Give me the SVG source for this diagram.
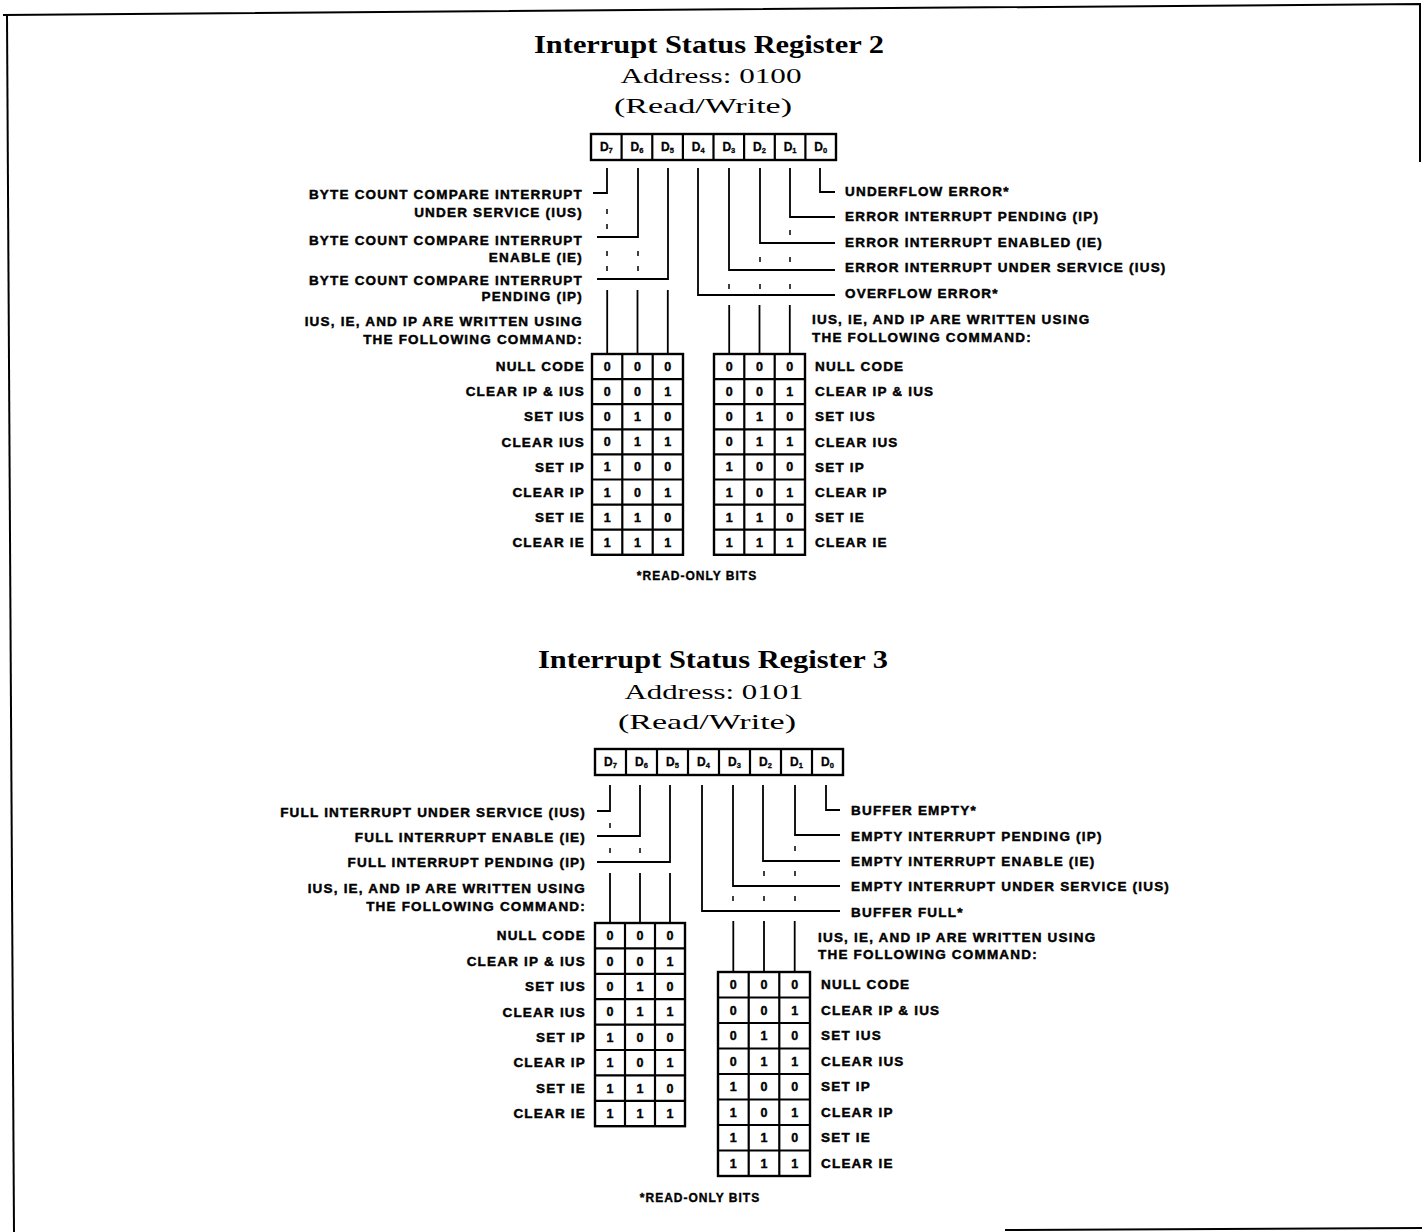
<svg xmlns="http://www.w3.org/2000/svg" width="1422" height="1232" viewBox="0 0 1422 1232">
<style>
  .lbl { font-family: "Liberation Sans", Arial, sans-serif; font-weight: bold; font-size: 13.5px; letter-spacing: 1.2px; fill: #000; stroke: #000; stroke-width: 0.45; }
  .r { text-anchor: end; }
  .cell { font-family: "Liberation Sans", Arial, sans-serif; font-weight: bold; font-size: 12.5px; text-anchor: middle; fill: #000; stroke: #000; stroke-width: 0.4; }
  .bit { font-family: "Liberation Sans", Arial, sans-serif; font-weight: bold; font-size: 12px; text-anchor: middle; fill: #000; stroke: #000; stroke-width: 0.3; }
  .sub { font-size: 7.5px; }
  .title { font-family: "Liberation Serif", "Times New Roman", serif; font-weight: bold; font-size: 25px; text-anchor: middle; fill: #000; }
  .addr { font-family: "Liberation Serif", "Times New Roman", serif; font-size: 22px; text-anchor: middle; fill: #000; }
  .note { font-family: "Liberation Sans", Arial, sans-serif; font-weight: bold; font-size: 12px; letter-spacing: 1px; text-anchor: middle; fill: #000; stroke: #000; stroke-width: 0.35; }
  .box { fill: #fff; stroke: #000; stroke-width: 2.4; }
  .grid { stroke: #000; stroke-width: 2.2; fill: none; }
  .wire { stroke: #000; stroke-width: 1.8; fill: none; }
  .tick { stroke: #000; stroke-width: 1.5; fill: none; }
  .frame { stroke: #000; stroke-width: 2; fill: none; }
</style>

<g id="frame">
  <path class="frame" d="M3,15 L1420,4 L1420,162"/>
  <path class="frame" d="M7,15 L14,1232"/>
  <path class="frame" d="M1005,1230 L1422,1228"/>
</g>

<!-- ================= REGISTER 2 ================= -->
<g id="reg2-title">
  <text class="title" x="709" y="53" textLength="350" lengthAdjust="spacingAndGlyphs">Interrupt Status Register 2</text>
  <text class="addr" x="711" y="83" textLength="181" lengthAdjust="spacingAndGlyphs">Address: 0100</text>
  <text class="addr" x="703" y="113" textLength="178" lengthAdjust="spacingAndGlyphs">(Read/Write)</text>
</g>

<g id="reg2-bits">
  <rect class="box" x="591" y="134" width="245" height="26"/>
  <path class="grid" d="M621.6,134V160 M652.3,134V160 M682.9,134V160 M713.5,134V160 M744.1,134V160 M774.8,134V160 M805.4,134V160"/>
  <text class="bit" x="606.3" y="151">D<tspan class="sub" dy="2">7</tspan></text>
  <text class="bit" x="636.9" y="151">D<tspan class="sub" dy="2">6</tspan></text>
  <text class="bit" x="667.5" y="151">D<tspan class="sub" dy="2">5</tspan></text>
  <text class="bit" x="698.2" y="151">D<tspan class="sub" dy="2">4</tspan></text>
  <text class="bit" x="728.8" y="151">D<tspan class="sub" dy="2">3</tspan></text>
  <text class="bit" x="759.4" y="151">D<tspan class="sub" dy="2">2</tspan></text>
  <text class="bit" x="790.1" y="151">D<tspan class="sub" dy="2">1</tspan></text>
  <text class="bit" x="820.7" y="151">D<tspan class="sub" dy="2">0</tspan></text>
</g>

<g id="reg2-left-labels">
  <text class="lbl r" x="583" y="199">BYTE COUNT COMPARE INTERRUPT</text>
  <text class="lbl r" x="583" y="217">UNDER SERVICE (IUS)</text>
  <text class="lbl r" x="583" y="245">BYTE COUNT COMPARE INTERRUPT</text>
  <text class="lbl r" x="583" y="262">ENABLE (IE)</text>
  <text class="lbl r" x="583" y="285">BYTE COUNT COMPARE INTERRUPT</text>
  <text class="lbl r" x="583" y="301">PENDING (IP)</text>
  <text class="lbl r" x="583" y="326">IUS, IE, AND IP ARE WRITTEN USING</text>
  <text class="lbl r" x="583" y="344">THE FOLLOWING COMMAND:</text>
</g>

<g id="reg2-right-labels">
  <text class="lbl" x="845" y="196">UNDERFLOW ERROR*</text>
  <text class="lbl" x="845" y="221">ERROR INTERRUPT PENDING (IP)</text>
  <text class="lbl" x="845" y="247">ERROR INTERRUPT ENABLED (IE)</text>
  <text class="lbl" x="845" y="272">ERROR INTERRUPT UNDER SERVICE (IUS)</text>
  <text class="lbl" x="845" y="298">OVERFLOW ERROR*</text>
  <text class="lbl" x="812" y="324">IUS, IE, AND IP ARE WRITTEN USING</text>
  <text class="lbl" x="812" y="342">THE FOLLOWING COMMAND:</text>
</g>

<g id="reg2-table-left">
  <rect class="box" x="592" y="354" width="91" height="200.8"/>
  <path class="grid" d="M622.3,354V554.8 M652.7,354V554.8 M592,379.1H683 M592,404.2H683 M592,429.3H683 M592,454.4H683 M592,479.5H683 M592,504.6H683 M592,529.7H683"/>
  <g>
    <text class="cell" x="607.2" y="371">0</text><text class="cell" x="637.5" y="371">0</text><text class="cell" x="667.8" y="371">0</text>
    <text class="cell" x="607.2" y="396.1">0</text><text class="cell" x="637.5" y="396.1">0</text><text class="cell" x="667.8" y="396.1">1</text>
    <text class="cell" x="607.2" y="421.2">0</text><text class="cell" x="637.5" y="421.2">1</text><text class="cell" x="667.8" y="421.2">0</text>
    <text class="cell" x="607.2" y="446.3">0</text><text class="cell" x="637.5" y="446.3">1</text><text class="cell" x="667.8" y="446.3">1</text>
    <text class="cell" x="607.2" y="471.4">1</text><text class="cell" x="637.5" y="471.4">0</text><text class="cell" x="667.8" y="471.4">0</text>
    <text class="cell" x="607.2" y="496.5">1</text><text class="cell" x="637.5" y="496.5">0</text><text class="cell" x="667.8" y="496.5">1</text>
    <text class="cell" x="607.2" y="521.6">1</text><text class="cell" x="637.5" y="521.6">1</text><text class="cell" x="667.8" y="521.6">0</text>
    <text class="cell" x="607.2" y="546.7">1</text><text class="cell" x="637.5" y="546.7">1</text><text class="cell" x="667.8" y="546.7">1</text>
  </g>
  <g>
    <text class="lbl r" x="585" y="371.2">NULL CODE</text>
    <text class="lbl r" x="585" y="396.3">CLEAR IP &amp; IUS</text>
    <text class="lbl r" x="585" y="421.4">SET IUS</text>
    <text class="lbl r" x="585" y="446.5">CLEAR IUS</text>
    <text class="lbl r" x="585" y="471.6">SET IP</text>
    <text class="lbl r" x="585" y="496.7">CLEAR IP</text>
    <text class="lbl r" x="585" y="521.8">SET IE</text>
    <text class="lbl r" x="585" y="546.9">CLEAR IE</text>
  </g>
</g>

<g id="reg2-table-right">
  <rect class="box" x="714" y="354" width="91" height="200.8"/>
  <path class="grid" d="M744.3,354V554.8 M774.7,354V554.8 M714,379.1H805 M714,404.2H805 M714,429.3H805 M714,454.4H805 M714,479.5H805 M714,504.6H805 M714,529.7H805"/>
  <g>
    <text class="cell" x="729.2" y="371">0</text><text class="cell" x="759.5" y="371">0</text><text class="cell" x="789.8" y="371">0</text>
    <text class="cell" x="729.2" y="396.1">0</text><text class="cell" x="759.5" y="396.1">0</text><text class="cell" x="789.8" y="396.1">1</text>
    <text class="cell" x="729.2" y="421.2">0</text><text class="cell" x="759.5" y="421.2">1</text><text class="cell" x="789.8" y="421.2">0</text>
    <text class="cell" x="729.2" y="446.3">0</text><text class="cell" x="759.5" y="446.3">1</text><text class="cell" x="789.8" y="446.3">1</text>
    <text class="cell" x="729.2" y="471.4">1</text><text class="cell" x="759.5" y="471.4">0</text><text class="cell" x="789.8" y="471.4">0</text>
    <text class="cell" x="729.2" y="496.5">1</text><text class="cell" x="759.5" y="496.5">0</text><text class="cell" x="789.8" y="496.5">1</text>
    <text class="cell" x="729.2" y="521.6">1</text><text class="cell" x="759.5" y="521.6">1</text><text class="cell" x="789.8" y="521.6">0</text>
    <text class="cell" x="729.2" y="546.7">1</text><text class="cell" x="759.5" y="546.7">1</text><text class="cell" x="789.8" y="546.7">1</text>
  </g>
  <g>
    <text class="lbl" x="815" y="371.2">NULL CODE</text>
    <text class="lbl" x="815" y="396.3">CLEAR IP &amp; IUS</text>
    <text class="lbl" x="815" y="421.4">SET IUS</text>
    <text class="lbl" x="815" y="446.5">CLEAR IUS</text>
    <text class="lbl" x="815" y="471.6">SET IP</text>
    <text class="lbl" x="815" y="496.7">CLEAR IP</text>
    <text class="lbl" x="815" y="521.8">SET IE</text>
    <text class="lbl" x="815" y="546.9">CLEAR IE</text>
  </g>
</g>

<g id="reg2-note">
  <text class="note" x="697" y="580">*READ-ONLY BITS</text>
</g>

<!-- ================= REGISTER 3 ================= -->
<g id="reg3-title">
  <text class="title" x="713" y="668" textLength="350" lengthAdjust="spacingAndGlyphs">Interrupt Status Register 3</text>
  <text class="addr" x="714" y="699" textLength="179" lengthAdjust="spacingAndGlyphs">Address: 0101</text>
  <text class="addr" x="707" y="729" textLength="178" lengthAdjust="spacingAndGlyphs">(Read/Write)</text>
</g>

<g id="reg3-bits">
  <rect class="box" x="595" y="749" width="248" height="26"/>
  <path class="grid" d="M626,749V775 M657,749V775 M688,749V775 M719,749V775 M750,749V775 M781,749V775 M812,749V775"/>
  <text class="bit" x="610.5" y="766">D<tspan class="sub" dy="2">7</tspan></text>
  <text class="bit" x="641.5" y="766">D<tspan class="sub" dy="2">6</tspan></text>
  <text class="bit" x="672.5" y="766">D<tspan class="sub" dy="2">5</tspan></text>
  <text class="bit" x="703.5" y="766">D<tspan class="sub" dy="2">4</tspan></text>
  <text class="bit" x="734.5" y="766">D<tspan class="sub" dy="2">3</tspan></text>
  <text class="bit" x="765.5" y="766">D<tspan class="sub" dy="2">2</tspan></text>
  <text class="bit" x="796.5" y="766">D<tspan class="sub" dy="2">1</tspan></text>
  <text class="bit" x="827.5" y="766">D<tspan class="sub" dy="2">0</tspan></text>
</g>

<g id="reg3-left-labels">
  <text class="lbl r" x="586" y="817">FULL INTERRUPT UNDER SERVICE (IUS)</text>
  <text class="lbl r" x="586" y="842">FULL INTERRUPT ENABLE (IE)</text>
  <text class="lbl r" x="586" y="867">FULL INTERRUPT PENDING (IP)</text>
  <text class="lbl r" x="586" y="893">IUS, IE, AND IP ARE WRITTEN USING</text>
  <text class="lbl r" x="586" y="911">THE FOLLOWING COMMAND:</text>
</g>

<g id="reg3-right-labels">
  <text class="lbl" x="851" y="815">BUFFER EMPTY*</text>
  <text class="lbl" x="851" y="841">EMPTY INTERRUPT PENDING (IP)</text>
  <text class="lbl" x="851" y="866">EMPTY INTERRUPT ENABLE (IE)</text>
  <text class="lbl" x="851" y="891">EMPTY INTERRUPT UNDER SERVICE (IUS)</text>
  <text class="lbl" x="851" y="917">BUFFER FULL*</text>
  <text class="lbl" x="818" y="942">IUS, IE, AND IP ARE WRITTEN USING</text>
  <text class="lbl" x="818" y="959">THE FOLLOWING COMMAND:</text>
</g>

<g id="reg3-table-left">
  <rect class="box" x="595" y="923" width="90" height="203.2"/>
  <path class="grid" d="M625,923V1126.2 M655,923V1126.2 M595,948.4H685 M595,973.8H685 M595,999.2H685 M595,1024.6H685 M595,1050H685 M595,1075.4H685 M595,1100.8H685"/>
  <g>
    <text class="cell" x="610" y="940.2">0</text><text class="cell" x="640" y="940.2">0</text><text class="cell" x="670" y="940.2">0</text>
    <text class="cell" x="610" y="965.6">0</text><text class="cell" x="640" y="965.6">0</text><text class="cell" x="670" y="965.6">1</text>
    <text class="cell" x="610" y="991">0</text><text class="cell" x="640" y="991">1</text><text class="cell" x="670" y="991">0</text>
    <text class="cell" x="610" y="1016.4">0</text><text class="cell" x="640" y="1016.4">1</text><text class="cell" x="670" y="1016.4">1</text>
    <text class="cell" x="610" y="1041.8">1</text><text class="cell" x="640" y="1041.8">0</text><text class="cell" x="670" y="1041.8">0</text>
    <text class="cell" x="610" y="1067.2">1</text><text class="cell" x="640" y="1067.2">0</text><text class="cell" x="670" y="1067.2">1</text>
    <text class="cell" x="610" y="1092.6">1</text><text class="cell" x="640" y="1092.6">1</text><text class="cell" x="670" y="1092.6">0</text>
    <text class="cell" x="610" y="1118">1</text><text class="cell" x="640" y="1118">1</text><text class="cell" x="670" y="1118">1</text>
  </g>
  <g>
    <text class="lbl r" x="586" y="940.3">NULL CODE</text>
    <text class="lbl r" x="586" y="965.7">CLEAR IP &amp; IUS</text>
    <text class="lbl r" x="586" y="991.1">SET IUS</text>
    <text class="lbl r" x="586" y="1016.5">CLEAR IUS</text>
    <text class="lbl r" x="586" y="1041.9">SET IP</text>
    <text class="lbl r" x="586" y="1067.3">CLEAR IP</text>
    <text class="lbl r" x="586" y="1092.7">SET IE</text>
    <text class="lbl r" x="586" y="1118.1">CLEAR IE</text>
  </g>
</g>

<g id="reg3-table-right">
  <rect class="box" x="718" y="972" width="92" height="204"/>
  <path class="grid" d="M748.7,972V1176 M779.3,972V1176 M718,997.5H810 M718,1023H810 M718,1048.5H810 M718,1074H810 M718,1099.5H810 M718,1125H810 M718,1150.5H810"/>
  <g>
    <text class="cell" x="733.3" y="989.2">0</text><text class="cell" x="764" y="989.2">0</text><text class="cell" x="794.7" y="989.2">0</text>
    <text class="cell" x="733.3" y="1014.7">0</text><text class="cell" x="764" y="1014.7">0</text><text class="cell" x="794.7" y="1014.7">1</text>
    <text class="cell" x="733.3" y="1040.2">0</text><text class="cell" x="764" y="1040.2">1</text><text class="cell" x="794.7" y="1040.2">0</text>
    <text class="cell" x="733.3" y="1065.7">0</text><text class="cell" x="764" y="1065.7">1</text><text class="cell" x="794.7" y="1065.7">1</text>
    <text class="cell" x="733.3" y="1091.2">1</text><text class="cell" x="764" y="1091.2">0</text><text class="cell" x="794.7" y="1091.2">0</text>
    <text class="cell" x="733.3" y="1116.7">1</text><text class="cell" x="764" y="1116.7">0</text><text class="cell" x="794.7" y="1116.7">1</text>
    <text class="cell" x="733.3" y="1142.2">1</text><text class="cell" x="764" y="1142.2">1</text><text class="cell" x="794.7" y="1142.2">0</text>
    <text class="cell" x="733.3" y="1167.7">1</text><text class="cell" x="764" y="1167.7">1</text><text class="cell" x="794.7" y="1167.7">1</text>
  </g>
  <g>
    <text class="lbl" x="821" y="989.4">NULL CODE</text>
    <text class="lbl" x="821" y="1014.9">CLEAR IP &amp; IUS</text>
    <text class="lbl" x="821" y="1040.4">SET IUS</text>
    <text class="lbl" x="821" y="1065.9">CLEAR IUS</text>
    <text class="lbl" x="821" y="1091.4">SET IP</text>
    <text class="lbl" x="821" y="1116.9">CLEAR IP</text>
    <text class="lbl" x="821" y="1142.4">SET IE</text>
    <text class="lbl" x="821" y="1167.9">CLEAR IE</text>
  </g>
</g>

<g id="reg3-note">
  <text class="note" x="700" y="1202">*READ-ONLY BITS</text>
</g>

<!-- ================= CONNECTORS ================= -->
<g id="connectors">
  <!-- register 2, left -->
  <path class="wire" d="M607,168V193H593"/>
  <path class="wire" d="M638,168V237H597"/>
  <path class="wire" d="M668,168V279H597"/>
  <path class="wire" d="M607.2,290V354 M637.5,290V354 M667.8,290V354"/>
  <path class="tick" d="M607,209V214 M607,224V229 M607,251V256 M638,251V256 M607,266V271 M638,266V271"/>
  <!-- register 2, right -->
  <path class="wire" d="M698,168V295H835"/>
  <path class="wire" d="M729,168V270H835"/>
  <path class="wire" d="M760,168V243H835"/>
  <path class="wire" d="M790,168V217H835"/>
  <path class="wire" d="M820,168V192H835"/>
  <path class="wire" d="M729.2,305V354 M759.5,305V354 M789.8,305V354"/>
  <path class="tick" d="M790,230V235 M760,257V262 M790,257V262 M729,284V289 M760,284V289 M790,284V289"/>
  <!-- register 3, left -->
  <path class="wire" d="M610,785V811H597"/>
  <path class="wire" d="M640,785V836H597"/>
  <path class="wire" d="M670,785V862H597"/>
  <path class="wire" d="M610,873V923 M640,873V923 M670,873V923"/>
  <path class="tick" d="M610,823V828 M610,848V853 M640,848V853"/>
  <!-- register 3, right -->
  <path class="wire" d="M702,785V911H840"/>
  <path class="wire" d="M733,785V886H840"/>
  <path class="wire" d="M763,785V861H840"/>
  <path class="wire" d="M795,785V835H840"/>
  <path class="wire" d="M826,785V810H840"/>
  <path class="wire" d="M733.3,921V972 M764,921V972 M794.7,921V972"/>
  <path class="tick" d="M795,846V851 M764,871V876 M795,871V876 M733,896V901 M764,896V901 M795,896V901"/>
</g>
</svg>
